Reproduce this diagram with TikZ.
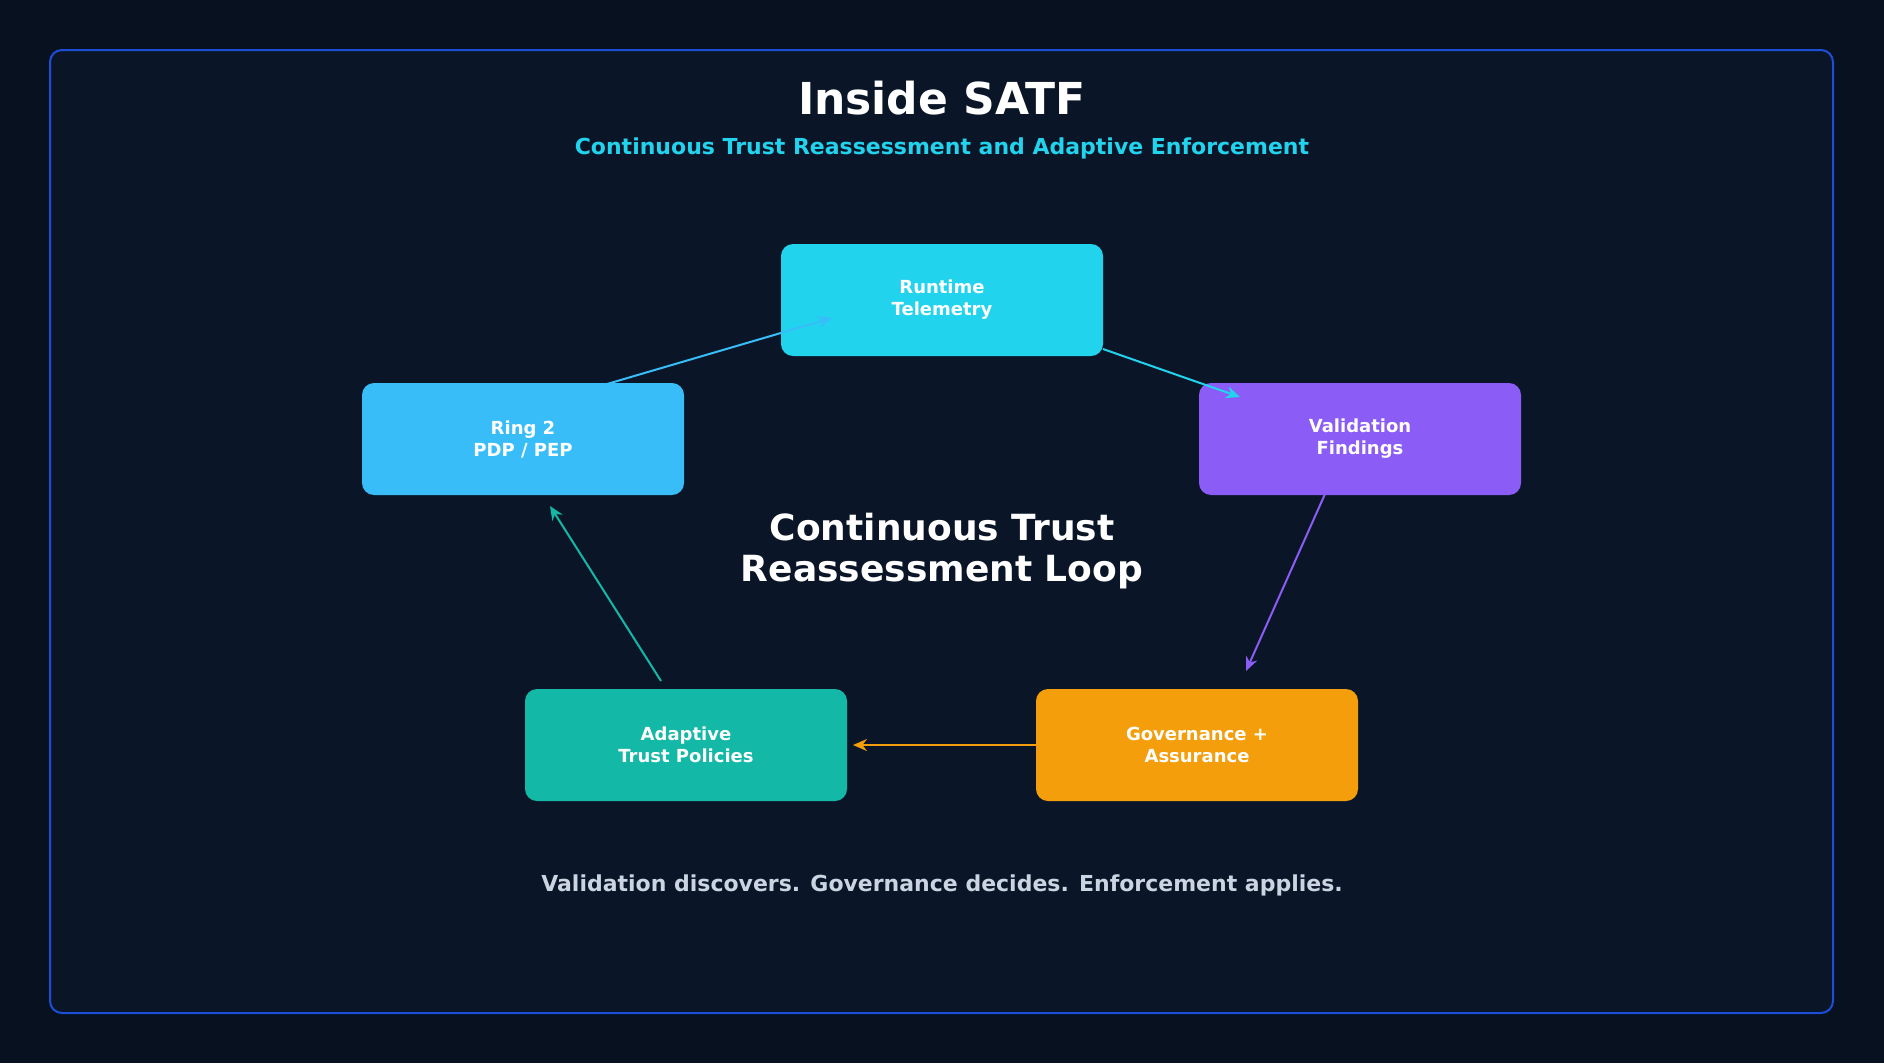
\documentclass[tikz,border=0pt]{standalone}
\usepackage{fontspec}
\setmainfont{DejaVu Sans}
\usetikzlibrary{arrows.meta}
\definecolor{bg}{HTML}{081120}
\definecolor{panel}{HTML}{0A1628}
\definecolor{frame}{HTML}{1D4ED8}
\definecolor{cyan}{HTML}{22D3EE}
\definecolor{sky}{HTML}{38BDF8}
\definecolor{violet}{HTML}{8B5CF6}
\definecolor{teal}{HTML}{14B8A6}
\definecolor{amber}{HTML}{F59E0B}
\definecolor{foot}{HTML}{CBD5E1}
\begin{document}
\begin{tikzpicture}[x=1pt,y=-1pt,
 box/.style={rounded corners=12pt,minimum width=322pt,minimum height=112pt,inner sep=0pt,
   text=white,align=center,font=\fontsize{18}{22}\selectfont\bfseries},
 arr/.style={line width=2pt,-{Stealth[length=14pt,width=12pt]}}]
\fill[bg] (0,0) rectangle (1884,1063);
\useasboundingbox (0,0) rectangle (1884,1063);
\draw[frame,fill=panel,line width=2pt,rounded corners=12pt] (50,50) rectangle (1833,1013);
\node[white,font=\fontsize{44}{50}\selectfont\bfseries] (title) at (942,98) {Inside SATF};
\node[cyan,font=\fontsize{22}{26}\selectfont\bfseries] (sub) at (942,148) {Continuous Trust Reassessment and Adaptive Enforcement};
\node[box,fill=cyan] (rt) at (942,300) {Runtime\\Telemetry};
\node[box,fill=sky] (r2) at (523,439) {Ring 2\\PDP / PEP};
\node[box,fill=violet] (vf) at (1360,439) {Validation\\Findings};
\node[box,fill=teal] (at) at (686,745) {Adaptive\\Trust Policies};
\node[box,fill=amber] (gv) at (1197,745) {Governance +\\Assurance};
\node[white,align=center,font=\fontsize{36}{41}\selectfont\bfseries] (loop) at (942,551) {Continuous Trust\\Reassessment Loop};
\node[foot,font=\fontsize{22}{26}\selectfont\bfseries] (ft) at (942,885) {Validation discovers. Governance decides. Enforcement applies.};
\coordinate (a1) at (607,384); \coordinate (b1) at (832,318);
\coordinate (a2) at (1103,349); \coordinate (b2) at (1240,397);
\coordinate (a3) at (1325,494); \coordinate (b3) at (1246,671);
\coordinate (a4) at (1037,745); \coordinate (b4) at (853,745);
\coordinate (a5) at (661,681); \coordinate (b5) at (550,506);
\draw[arr,sky] (a1) -- (b1);
\draw[arr,cyan] (a2) -- (b2);
\draw[arr,violet] (a3) -- (b3);
\draw[arr,amber] (a4) -- (b4);
\draw[arr,teal] (a5) -- (b5);
\end{tikzpicture}
\end{document}
